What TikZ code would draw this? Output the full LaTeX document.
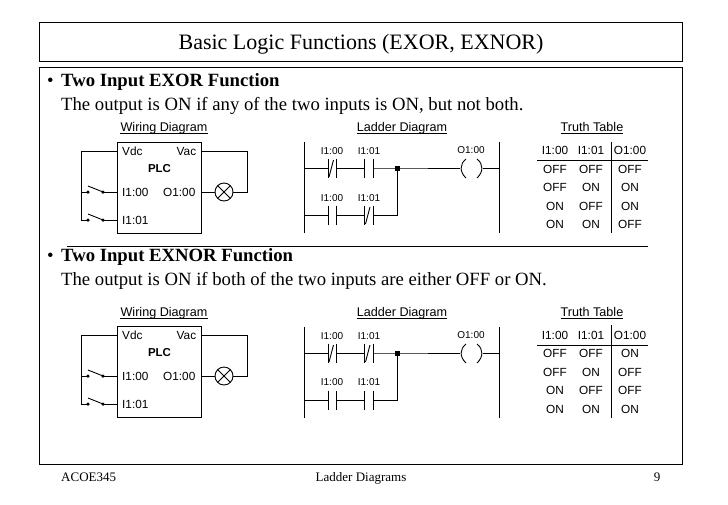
\documentclass[tikz,border=0pt]{standalone}
\usepackage{fontspec}
\setmainfont{Liberation Serif}
\newfontfamily\arialf{Liberation Sans}
\tikzset{
  x=1pt,y=-1pt,
  wire/.style={line width=0.9pt,line join=miter},
  frame/.style={draw=black,line width=1pt},
  title/.style={font=\fontsize{22}{26}\selectfont,inner sep=0pt,anchor=base},
  bull/.style={font=\fontsize{18.7}{22}\selectfont,inner sep=0pt,anchor=base west},
  foot/.style={font=\fontsize{13}{16}\selectfont,inner sep=0pt,anchor=base},
  head/.style={font=\arialf\fontsize{12.6}{14}\selectfont,inner sep=0pt,anchor=base},
  pin/.style={font=\arialf\fontsize{11.8}{14}\selectfont,inner sep=0pt,anchor=west},
  lab/.style={font=\arialf\fontsize{10}{12}\selectfont,inner sep=0pt,anchor=center},
  cell/.style={font=\arialf\fontsize{11.8}{14}\selectfont,inner sep=0pt,anchor=center},
  dot/.style={circle,fill=black,inner sep=0pt,minimum size=3.5pt},
  plcbox/.style={draw=black,line width=0.9pt,minimum width=84pt,minimum height=91pt,inner sep=0pt},
  lampnode/.style={draw=black,circle,line width=0.9pt,minimum size=18pt,inner sep=0pt,
     path picture={\draw[line width=0.9pt] (path picture bounding box.south west)--(path picture bounding box.north east)
       (path picture bounding box.north west)--(path picture bounding box.south east);}},
  junction/.style={rectangle,fill=black,inner sep=0pt,minimum size=5pt},
}
% underlined small heading
\newcommand{\hdg}[4]{%
  \node[head] (#1) at (#2,#3) {#4};
  \draw[line width=0.7pt] (#1.base west|-0,#3+2) -- (#1.base east|-0,#3+2);}
% wiring diagram
\newcommand{\wiringd}[2]{%
\begin{scope}[yshift=-#2pt]
  \node[plcbox] (#1p) at (159,187.5) {};
  \node[pin] at (122,151) {Vdc};
  \node[pin] at (176.5,151) {Vac};
  \node[font=\arialf\bfseries\fontsize{11.5}{14}\selectfont,inner sep=0pt] at (159.5,169) {PLC};
  \node[pin] at (122,192) {I1:00};
  \node[pin] at (163,192) {O1:00};
  \node[pin] at (122,220) {I1:01};
  \node[lampnode] (#1l) at (224,192) {};
  \coordinate (#1vdc) at (117,151);
  \coordinate (#1vac) at (201,151);
  \coordinate (#1o) at (201,192);
  \coordinate (#1ia) at (117,192);
  \coordinate (#1ib) at (117,220);
  \coordinate (#1lt) at (81,151);
  \coordinate (#1lm) at (81,192);
  \coordinate (#1lb) at (81,220);
  \coordinate (#1rt) at (247,151);
  \coordinate (#1rb) at (247,192);
  \node[dot] (#1a1) at (88,192) {};
  \node[dot] (#1a2) at (103,192) {};
  \node[dot] (#1b1) at (88,220) {};
  \node[dot] (#1b2) at (103,220) {};
  \coordinate (#1a3) at (88,186);
  \coordinate (#1b3) at (88,214);
  \draw[wire] (#1vdc) -- (#1lt) -- (#1lb) -- (#1b1.center);
  \draw[wire] (#1lm) -- (#1a1.center);
  \draw[wire] (#1a2.center) -- (#1ia);
  \draw[wire] (#1b2.center) -- (#1ib);
  \draw[wire] (#1a3) -- (#1a2.center);
  \draw[wire] (#1b3) -- (#1b2.center);
  \draw[wire] (#1vac) -- (#1rt) -- (#1rb) -- (#1l);
  \draw[wire] (#1o) -- (#1l);
\end{scope}}
% contacts: name, left plate x, y
\newcommand{\nocontact}[3]{%
  \coordinate (#1l) at (#2,#3);
  \coordinate (#1r) at (#2+8.5,#3);
  \draw[wire] (#2,#3-9.5) -- (#2,#3+9.5) (#2+8.5,#3-9.5) -- (#2+8.5,#3+9.5);}
\newcommand{\nccontact}[3]{%
  \nocontact{#1}{#2}{#3}
  \draw[wire] (#2+1,#3+9) -- (#2+5.5,#3-8);}
\begin{document}
\begin{tikzpicture}
\useasboundingbox (0,0) rectangle (728,504);
\fill[white] (0,0) rectangle (728,504);
% frames
\node[frame,minimum width=643pt,minimum height=39pt,inner sep=0pt] (tbox) at (360.5,41.5) {};
\node[frame,minimum width=643pt,minimum height=397pt,inner sep=0pt] (bbox) at (360.5,265.5) {};
\node[title] (ttl) at (361,49.5) {Basic Logic Functions (EXOR, EXNOR)};
% bullets
\node[bull] (b1) at (47,86.5) {•};
\node[bull] (b1t) at (61,86.5) {\bfseries Two Input EXOR Function};
\node[bull] (b1s) at (61,110) {The output is ON if any of the two inputs is ON, but not both.};
\node[bull] (b2) at (47,261.5) {•};
\node[bull] (b2t) at (61,261.5) {\bfseries Two Input EXNOR Function};
\node[bull] (b2s) at (61,285) {The output is ON if both of the two inputs are either OFF or ON.};
% footer
\node[foot,anchor=base west] (f1) at (61,481) {ACOE345};
\node[foot] (f2) at (361,481) {Ladder Diagrams};
\node[foot] (f3) at (657,481) {9};
% divider
\coordinate (dl) at (67,246);
\coordinate (dr) at (648,246);
\draw[line width=0.9pt] (dl) -- (dr);
% wiring
\hdg{wah}{164}{131}{Wiring Diagram}
\hdg{wbh}{164}{316}{Wiring Diagram}
\wiringd{wa}{0}
\wiringd{wb}{184}
% ladder top
\hdg{lah}{402}{131}{Ladder Diagram}
\coordinate (la1) at (304,142); \coordinate (la2) at (304,233);
\coordinate (la3) at (499,142); \coordinate (la4) at (499,233);
\draw[wire] (la1) -- (la2); \draw[wire] (la3) -- (la4);
\coordinate (laL1) at (304,168); \coordinate (laL2) at (304,215); \coordinate (laR) at (499,168);
\nccontact{laa}{328}{168} \nocontact{lab}{364.5}{168}
\nocontact{lac}{328}{215} \nccontact{lad}{364.5}{215}
\node[junction] (laj) at (397,168) {};
\node[lab] at (332,151) {I1:00}; \node[lab] at (369,151) {I1:01};
\node[lab] at (332,198) {I1:00}; \node[lab] at (369,198) {I1:01};
\node[lab] (lacoil) at (471,150) {O1:00};
\coordinate (lacoL) at (460,168); \coordinate (lacoR) at (483,168);
\draw[wire] (466,159) .. controls (459.5,164) and (459.5,172) .. (466,178);
\draw[wire] (477,159) .. controls (483.5,164) and (483.5,172) .. (477,178);
\draw[wire] (laL1) -- (laal); \draw[wire] (laar) -- (labl); \draw[wire] (labr) -- (laj.center) -- (lacoL);
\draw[wire] (lacoR) -- (laR);
\draw[wire] (laL2) -- (lacl); \draw[wire] (lacr) -- (ladl); \draw[wire] (ladr) -| (laj.center);
% ladder bottom
\hdg{lbh}{402}{316}{Ladder Diagram}
\coordinate (lb1) at (304,327); \coordinate (lb2) at (304,418);
\coordinate (lb3) at (499,327); \coordinate (lb4) at (499,418);
\draw[wire] (lb1) -- (lb2); \draw[wire] (lb3) -- (lb4);
\coordinate (lbL1) at (304,353); \coordinate (lbL2) at (304,400); \coordinate (lbR) at (499,353);
\nccontact{lba}{328}{353} \nccontact{lbb}{364.5}{353}
\nocontact{lbc}{328}{400} \nocontact{lbd}{364.5}{400}
\node[junction] (lbj) at (397,353) {};
\node[lab] at (332,336) {I1:00}; \node[lab] at (369,336) {I1:01};
\node[lab] at (332,382) {I1:00}; \node[lab] at (369,382) {I1:01};
\node[lab] (lbcoil) at (471,335) {O1:00};
\coordinate (lbcoL) at (460,353); \coordinate (lbcoR) at (483,353);
\draw[wire] (466,344) .. controls (459.5,349) and (459.5,357) .. (466,363);
\draw[wire] (477,344) .. controls (483.5,349) and (483.5,357) .. (477,363);
\draw[wire] (lbL1) -- (lbal); \draw[wire] (lbar) -- (lbbl); \draw[wire] (lbbr) -- (lbj.center) -- (lbcoL);
\draw[wire] (lbcoR) -- (lbR);
\draw[wire] (lbL2) -- (lbcl); \draw[wire] (lbcr) -- (lbdl); \draw[wire] (lbdr) -| (lbj.center);
% truth tables
\hdg{tah}{592}{131}{Truth Table}
\foreach \t/\s in {I1:00/555,I1:01/591,O1:00/630}{\node[cell] at (\s,150) {\t};}
\coordinate (tah1) at (537,160); \coordinate (tah2) at (648,160);
\coordinate (tav1) at (611,142); \coordinate (tav2) at (611,233);
\draw[wire] (tah1) -- (tah2); \draw[wire] (tav1) -- (tav2);
\foreach \a/\b/\c/\y in {OFF/OFF/OFF/169,OFF/ON/ON/187,ON/OFF/ON/206,ON/ON/OFF/224}{
  \node[cell] at (555,\y) {\a}; \node[cell] at (591,\y) {\b}; \node[cell] at (630,\y) {\c};}
\hdg{tbh}{592}{316}{Truth Table}
\foreach \t/\s in {I1:00/555,I1:01/591,O1:00/630}{\node[cell] at (\s,335) {\t};}
\coordinate (tbh1) at (537,345); \coordinate (tbh2) at (648,345);
\coordinate (tbv1) at (611,325); \coordinate (tbv2) at (611,418);
\draw[wire] (tbh1) -- (tbh2); \draw[wire] (tbv1) -- (tbv2);
\foreach \a/\b/\c/\y in {OFF/OFF/ON/353,OFF/ON/OFF/372,ON/OFF/OFF/390,ON/ON/ON/409}{
  \node[cell] at (555,\y) {\a}; \node[cell] at (591,\y) {\b}; \node[cell] at (630,\y) {\c};}
\end{tikzpicture}
\end{document}
